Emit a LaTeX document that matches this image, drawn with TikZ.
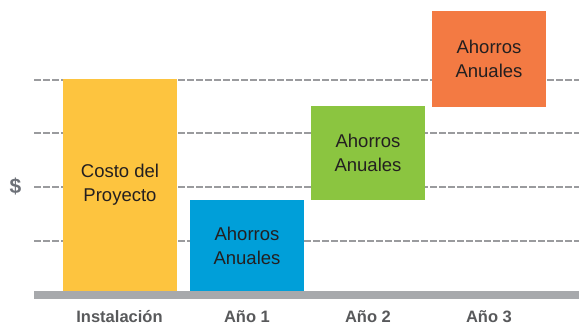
\documentclass[tikz,border=0pt]{standalone}
\usepackage{fontspec}
\setmainfont{Liberation Sans}
\definecolor{barYellow}{HTML}{FDC43F}
\definecolor{barBlue}{HTML}{009FD9}
\definecolor{barGreen}{HTML}{8BC540}
\definecolor{barOrange}{HTML}{F37A43}
\definecolor{gridGray}{HTML}{A7A9AC}
\definecolor{dashGray}{HTML}{9A9B9E}
\definecolor{labelGray}{HTML}{58595B}
\definecolor{dollarGray}{HTML}{6D7178}
\definecolor{textDark}{HTML}{231F20}
\tikzset{
  bar/.style={inner sep=0pt, minimum width=114pt, align=center, text=textDark,
    font=\fontsize{18.5}{24}\selectfont},
  axislabel/.style={anchor=base, text=labelGray, font=\bfseries\fontsize{16.5}{20}\selectfont},
  gridline/.style={dashGray, line width=2.2pt, dash pattern=on 7pt off 2pt}
}
\begin{document}
\begin{tikzpicture}[x=1pt, y=-1pt]
  \useasboundingbox (0,0) rectangle (579,326);
  \foreach \y in {80,133,187,241}
    \draw[gridline] (34,\y) -- (579,\y); % Dashed levels
  \fill[gridGray] (34,291) rectangle (579,299); % Base
  \node[text=dollarGray, font=\bfseries\fontsize{21}{24}\selectfont] (dollar) at (15.5,186) {\$};
  \node[bar, fill=barYellow, minimum height=212pt] (costo) at (120,185) {Costo del\\Proyecto};
  \node[bar, fill=barBlue, minimum height=91pt] (ahorro1) at (247,245.5) {Ahorros\\Anuales};
  \node[bar, fill=barGreen, minimum height=94pt] (ahorro2) at (368,153) {Ahorros\\Anuales};
  \node[bar, fill=barOrange, minimum height=96pt] (ahorro3) at (489,59) {Ahorros\\Anuales};
  \node[axislabel] (instalacion) at (119.5,322.5) {Instalación};
  \node[axislabel] (anio1) at (247,322.5) {Año 1};
  \node[axislabel] (anio2) at (368,322.5) {Año 2};
  \node[axislabel] (anio3) at (489,322.5) {Año 3};
\end{tikzpicture}
\end{document}
